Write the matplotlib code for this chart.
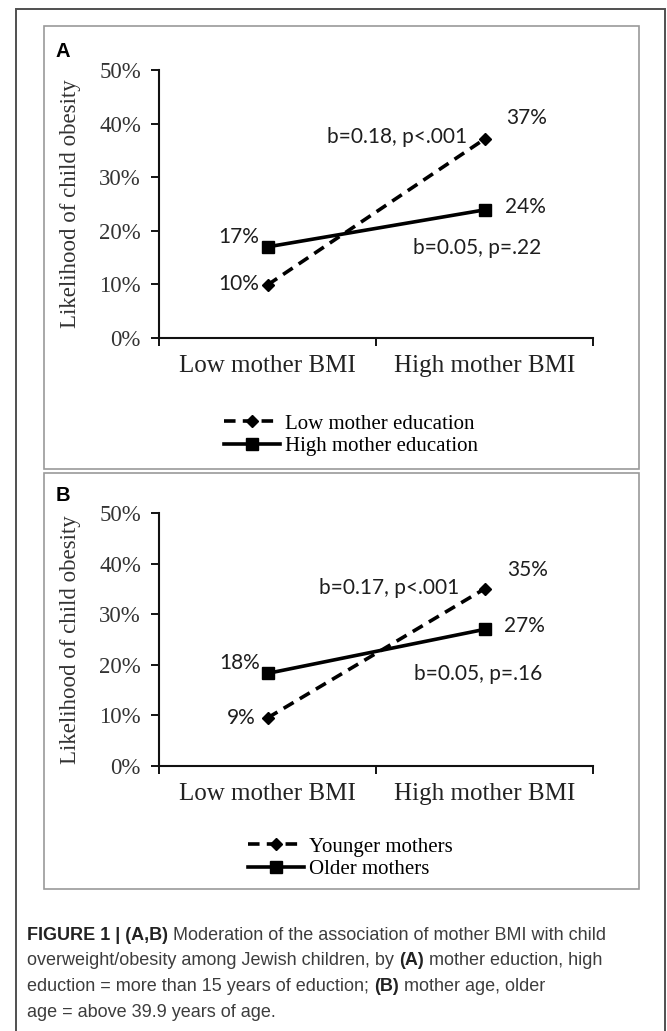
import matplotlib
matplotlib.use("Agg")
import matplotlib.pyplot as plt
from matplotlib.patches import Rectangle

# --- data ---
categories = ["Low mother BMI", "High mother BMI"]
y_ticks = [0.0, 0.1, 0.2, 0.3, 0.4, 0.5]
y_tick_labels = ["0%", "10%", "20%", "30%", "40%", "50%"]
y_title = "Likelihood of child obesity"

# panel A: mother education
edu_low = [0.099, 0.371]
edu_high = [0.170, 0.239]
edu_low_lbl = ["10%", "37%"]
edu_high_lbl = ["17%", "24%"]
edu_stats = ["b=0.18, p<.001", "b=0.05, p=.22"]
edu_names = ["Low mother education", "High mother education"]

# panel B: mother age
age_young = [0.095, 0.350]
age_old = [0.183, 0.270]
age_young_lbl = ["9%", "35%"]
age_old_lbl = ["18%", "27%"]
age_stats = ["b=0.17, p<.001", "b=0.05, p=.16"]
age_names = ["Younger mothers", "Older mothers"]

W, H = 667, 1031
SERIF = "Liberation Serif"
INK = "#1e1e1e"

fig = plt.figure(figsize=(W / 100, H / 100), dpi=100)
fig.patch.set_facecolor("white")


def fx(px):
    return px / W


def fy(py):
    return 1 - py / H


def box(left, top, right, bottom, color, lw):
    fig.patches.append(Rectangle((fx(left), fy(bottom)), fx(right - left), (bottom - top) / H,
                                 transform=fig.transFigure, fill=False,
                                 edgecolor=color, linewidth=lw))


# outer frame and panel frames
box(16, 9, 665, 1040, "#505050", 1.4)
box(44, 26, 639, 469, "#9a9a9a", 1.2)
box(44, 473, 639, 889, "#9a9a9a", 1.2)


def panel(top, bottom, letter, low, high, low_lbl, high_lbl, stats, names, offs, leg_xy):
    left, right = 159, 593
    ax = fig.add_axes([fx(left), fy(bottom), fx(right - left), (bottom - top) / H])
    x = [0.5, 1.5]
    ax.plot(x, low, color="black", lw=2.6, ls=(0, (3.2, 2.0)), marker="D", ms=6,
            mfc="black", mec="black", label=names[0])
    ax.plot(x, high, color="black", lw=2.6, marker="s", ms=8,
            mfc="black", mec="black", label=names[1])
    ax.set_xlim(0, 2)
    ax.set_ylim(0, 0.5)
    ax.set_yticks(y_ticks)
    ax.set_yticklabels(y_tick_labels, fontfamily=SERIF, fontsize=16.5, color="#333333")
    ax.set_xticks([0, 1, 2])
    ax.set_xticklabels([])
    ax.set_xticks(x, categories, minor=True)
    for t in ax.get_xticklabels(minor=True):
        t.set_fontfamily(SERIF)
        t.set_fontsize(18)
        t.set_color("#222222")
    ax.tick_params(axis="y", direction="out", length=6, width=1.3, pad=7)
    ax.tick_params(axis="x", which="major", direction="out", length=6, width=1.3)
    ax.tick_params(axis="x", which="minor", length=0, pad=12)
    for s in ["top", "right"]:
        ax.spines[s].set_visible(False)
    for s in ["left", "bottom"]:
        ax.spines[s].set_linewidth(1.5)
        ax.spines[s].set_color("#111111")
    ax.set_ylabel(y_title, fontfamily=SERIF, fontsize=16.5, color="#333333")
    ax.yaxis.set_label_coords(-0.18, 0.5)
    ax.patch.set_visible(False)

    # point labels and slope stats
    kw = dict(textcoords="offset pixels", fontfamily="Lato", fontsize=15,
              color=INK, va="center")
    ax.annotate(low_lbl[0], (x[0], low[0]), xytext=offs[0], ha="right", **kw)
    ax.annotate(high_lbl[0], (x[0], high[0]), xytext=offs[1], ha="right", **kw)
    ax.annotate(low_lbl[1], (x[1], low[1]), xytext=offs[2], ha="center", **kw)
    ax.annotate(high_lbl[1], (x[1], high[1]), xytext=offs[3], ha="center", **kw)
    ax.annotate(stats[0], (x[1], low[1]), xytext=offs[4], ha="right", **kw)
    ax.annotate(stats[1], (x[1], high[1]), xytext=offs[5], ha="center", **kw)

    fig.text(fx(56), fy(top - 18), letter, fontfamily="Liberation Sans",
             fontweight="bold", fontsize=14.5, color="black", va="center")

    ax.legend(loc="upper left", bbox_to_anchor=(fx(leg_xy[0]), fy(leg_xy[1])),
              bbox_transform=fig.transFigure, frameon=False, borderpad=0,
              borderaxespad=0, handlelength=2.7, handletextpad=0.25,
              labelspacing=0.15, numpoints=1, markerscale=1.0,
              prop={"family": SERIF, "size": 15})
    return ax


panel(70, 338, "A", edu_low, edu_high, edu_low_lbl, edu_high_lbl, edu_stats, edu_names,
      [(-8, 1), (-8, 10), (42, 21), (41, 3), (-17, 2), (-7, -38)], (224, 414))
panel(513, 766, "B", age_young, age_old, age_young_lbl, age_old_lbl, age_stats, age_names,
      [(-12, 0), (-7, 10), (43, 19), (40, 3), (-25, 1), (-6, -45)], (248, 837))

# caption with bold segments
caption = [
    [("FIGURE 1 | (A,B)", True), (" Moderation of the association of mother BMI with child", False)],
    [("overweight/obesity among Jewish children, by ", False), ("(A)", True),
     (" mother eduction, high", False)],
    [("eduction = more than 15 years of eduction; ", False), ("(B)", True),
     (" mother age, older", False)],
    [("age = above 39.9 years of age.", False)],
]
renderer = fig.canvas.get_renderer()
for i, line in enumerate(caption):
    xpos = fx(27)
    ypos = fy(935 + i * 25.8)
    for txt, bold in line:
        t = fig.text(xpos, ypos, txt, fontfamily="Liberation Sans", fontsize=13,
                     fontweight="bold" if bold else "normal",
                     color="#222222" if bold else "#3d3d3d", va="center", ha="left")
        bb = t.get_window_extent(renderer)
        xpos += bb.width / W

fig.savefig("out.png", dpi=100)
